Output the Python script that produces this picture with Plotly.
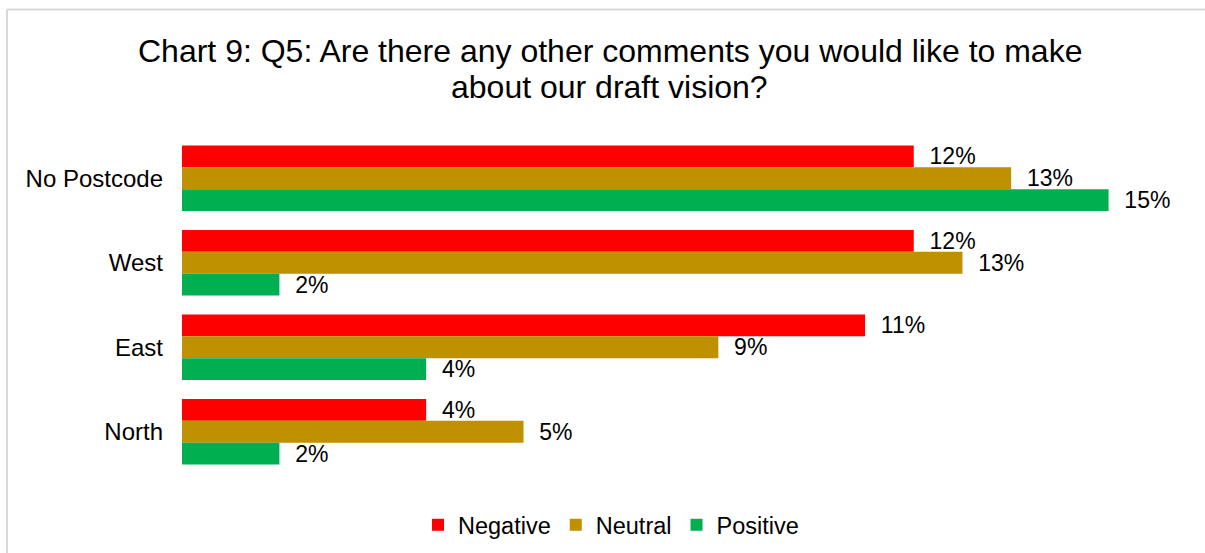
import plotly.graph_objects as go

# Share of comments by area and sentiment (%)
areas = ["No Postcode", "West", "East", "North"]
negative = [11.72, 11.72, 10.94, 3.91]
neutral = [13.28, 12.50, 8.59, 5.47]
positive = [14.84, 1.56, 3.91, 1.56]

series = [
    ("Negative", negative, "#FF0000"),
    ("Neutral", neutral, "#BF9000"),
    ("Positive", positive, "#00B050"),
]

title_lines = [
    "Chart 9: Q5: Are there any other comments you would like to make",
    "about our draft vision?",
]

FONT = "Arial, 'Liberation Sans', sans-serif"
W, H = 1205, 553
L, R, T, B = 182, 24, 136, 79
pw, ph = W - L - R, H - T - B


def py(pix):
    """Convert a pixel row (from the top of the canvas) to paper y."""
    return (H - B - pix) / ph


def px(pix):
    """Convert a pixel column to paper x."""
    return (pix - L) / pw


fig = go.Figure()
for name, vals, color in series:
    fig.add_trace(go.Bar(
        y=areas, x=vals, name=name, orientation="h",
        marker=dict(color=color, line=dict(width=0)),
        texttemplate="\u00a0\u00a0%{x:.0f}%", textposition="outside",
        textfont=dict(family=FONT, size=23, color="#000000"),
        constraintext="none", cliponaxis=False,
        hovertemplate="%{y}: %{x:.1f}%<extra>" + name + "</extra>",
    ))

# Two-line chart title, set with explicit line spacing
for text, centre in zip(title_lines, [50.5, 86.5]):
    fig.add_annotation(
        text=text, xref="paper", yref="paper",
        x=px(609.5), y=py(centre), xanchor="center", yanchor="middle",
        showarrow=False, font=dict(family=FONT, size=32, color="#000000"),
    )

fig.update_layout(
    width=W, height=H,
    margin=dict(l=L, r=R, t=T, b=B, autoexpand=False),
    paper_bgcolor="white", plot_bgcolor="white",
    barmode="group", bargap=0.227, bargroupgap=0,
    font=dict(family=FONT, color="#000000"),
    xaxis=dict(range=[0, 16], visible=False, fixedrange=True),
    yaxis=dict(
        autorange="reversed", showgrid=False, zeroline=False, showline=False,
        ticks="", ticklabelstandoff=18,
        tickfont=dict(family=FONT, size=24, color="#000000"),
    ),
    legend=dict(
        orientation="h", xanchor="center", x=px(611),
        yanchor="middle", y=py(525),
        font=dict(family=FONT, size=23.5, color="#000000"),
        itemwidth=30, tracegroupgap=0,
    ),
    showlegend=True,
)

# Light chart-area border: only its left and top edges fall inside the canvas
border = dict(color="#D9D9D9", width=2)
fig.add_shape(type="line", xref="paper", yref="paper",
              x0=px(7), x1=px(W + 5), y0=py(9.5), y1=py(9.5),
              line=border, layer="below")
fig.add_shape(type="line", xref="paper", yref="paper",
              x0=px(7), x1=px(7), y0=py(9.5), y1=py(H + 5),
              line=border, layer="below")

fig.write_html("out.html")
